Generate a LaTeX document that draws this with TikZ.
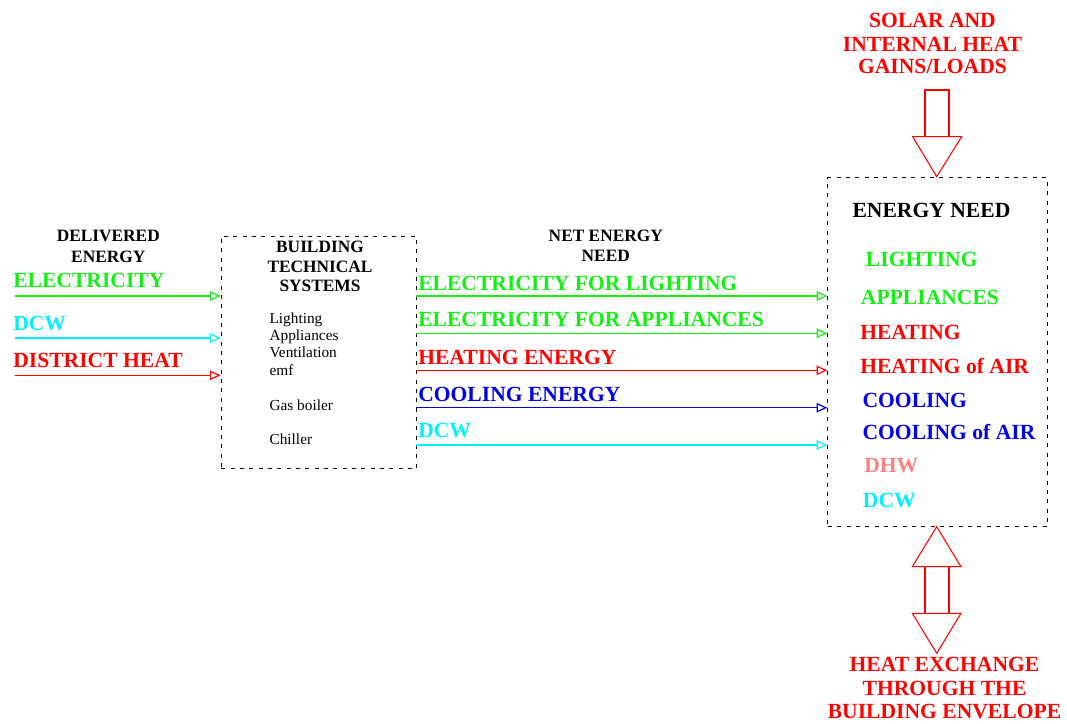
\documentclass[tikz,border=0pt]{standalone}
\usepackage{fontspec}
\setmainfont{Liberation Serif}
\usetikzlibrary{arrows.meta}
\definecolor{cgreen}{RGB}{20,240,20}
\definecolor{ccyan}{RGB}{0,240,255}
\definecolor{cred}{RGB}{255,0,0}
\definecolor{cblue}{RGB}{0,0,230}
\definecolor{cpink}{RGB}{255,128,128}
\tikzset{
  big/.style={inner sep=0pt, font=\bfseries\fontsize{16.2}{19}\selectfont},
  head/.style={inner sep=0pt, anchor=base, font=\bfseries\fontsize{13}{15}\selectfont},
  small/.style={inner sep=0pt, anchor=base west, font=\fontsize{11.5}{14}\selectfont},
  lab/.style={big, anchor=base west},
  dbox/.style={draw, line width=0.8pt, dash pattern=on 3pt off 4pt, inner sep=0pt, anchor=north west},
  flow/.style={line width=0.9pt, -{Triangle[open, length=8pt, width=7pt, line width=0.9pt]}},
  blk/.style={draw=cred, line width=0.8pt},
}
\begin{document}
\begin{tikzpicture}[x=0.75pt, y=-0.75pt]
\useasboundingbox (0,0) rectangle (1067,724);

% boxes
\node[dbox, minimum width=146.5pt, minimum height=174pt] (bts) at (220.7,235.7) {};
\node[dbox, minimum width=164.5pt, minimum height=261.5pt] (need) at (827.3,177.3) {};

% headers
\node[head] (del1) at (108.3,241.7) {DELIVERED};
\node[head] (del2) at (108.3,262.3) {ENERGY};
\node[head] (bt1) at (320,252.3) {BUILDING};
\node[head] (bt2) at (320,272.3) {TECHNICAL};
\node[head] (bt3) at (320,291) {SYSTEMS};
\node[head] (ne1) at (605.8,241.7) {NET ENERGY};
\node[head] (ne2) at (605.8,261.7) {NEED};
\node[big, anchor=base west] (en) at (852.3,217.7) {ENERGY NEED};

% technical systems listed inside the left box
\node[small] (s1) at (269.3,323.5) {Lighting};
\node[small] (s2) at (269.3,340.7) {Appliances};
\node[small] (s3) at (269.3,357.7) {Ventilation};
\node[small] (s4) at (269.3,375) {emf};
\node[small] (s5) at (269.3,410) {Gas boiler};
\node[small] (s6) at (269.3,444) {Chiller};

% delivered energy
\node[lab, text=cgreen] (d1) at (13,287) {ELECTRICITY};
\node[lab, text=ccyan] (d2) at (13,330.7) {DCW};
\node[lab, text=cred] (d3) at (13,367.7) {DISTRICT HEAT};
\coordinate (a1) at (15,296);
\coordinate (a2) at (15,338);
\coordinate (a3) at (15,375.3);
\draw[flow, cgreen] (a1) -- (a1 -| bts.west);
\draw[flow, ccyan] (a2) -- (a2 -| bts.west);
\draw[flow, cred] (a3) -- (a3 -| bts.west);

% net energy need
\node[lab, text=cgreen] (n1) at (418,290) {ELECTRICITY FOR LIGHTING};
\node[lab, text=cgreen] (n2) at (418,326) {ELECTRICITY FOR APPLIANCES};
\node[lab, text=cred] (n3) at (418,364) {HEATING ENERGY};
\node[lab, text=cblue] (n4) at (418,401) {COOLING ENERGY};
\node[lab, text=ccyan] (n5) at (418,437.7) {DCW};
\coordinate (b1) at (416,296);
\coordinate (b2) at (416,333.3);
\coordinate (b3) at (416,370.3);
\coordinate (b4) at (416,407.7);
\coordinate (b5) at (416,445);
\draw[flow, cgreen] (b1) -- (b1 -| need.west);
\draw[flow, cgreen] (b2) -- (b2 -| need.west);
\draw[flow, cred] (b3) -- (b3 -| need.west);
\draw[flow, cblue] (b4) -- (b4 -| need.west);
\draw[flow, ccyan] (b5) -- (b5 -| need.west);

% energy need items
\node[lab, text=cgreen] (e1) at (865.7,266.7) {LIGHTING};
\node[lab, text=cgreen] (e2) at (860.7,304.3) {APPLIANCES};
\node[lab, text=cred] (e3) at (860,339.3) {HEATING};
\node[lab, text=cred] (e4) at (860,373.3) {HEATING of AIR};
\node[lab, text=cblue] (e5) at (862.3,407.3) {COOLING};
\node[lab, text=cblue] (e6) at (862.3,439.3) {COOLING of AIR};
\node[lab, text=cpink] (e7) at (864,472.3) {DHW};
\node[lab, text=ccyan] (e8) at (862.7,507.7) {DCW};

% solar and internal gains
\node[big, anchor=base, text=cred] (g1) at (932.5,27.7) {SOLAR AND};
\node[big, anchor=base, text=cred] (g2) at (932.5,51.7) {INTERNAL HEAT};
\node[big, anchor=base, text=cred] (g3) at (932.5,74) {GAINS/LOADS};
\draw[blk] (925,90) rectangle (949,136.7);
\draw[blk] (912.7,136.7) -- (961.7,136.7) -- (936.7,176.7) -- cycle;

% heat exchange through the envelope
\draw[blk] (912.3,566.7) -- (961,566.7) -- (936.7,526.7) -- cycle;
\draw[blk] (925,566.7) rectangle (949,613.3);
\draw[blk] (912.3,613.3) -- (961,613.3) -- (936.7,653.3) -- cycle;
\node[big, anchor=base, text=cred] (h1) at (944.5,671.7) {HEAT EXCHANGE};
\node[big, anchor=base, text=cred] (h2) at (944.5,695.7) {THROUGH THE};
\node[big, anchor=base, text=cred] (h3) at (944.5,718.3) {BUILDING ENVELOPE};
\end{tikzpicture}
\end{document}
